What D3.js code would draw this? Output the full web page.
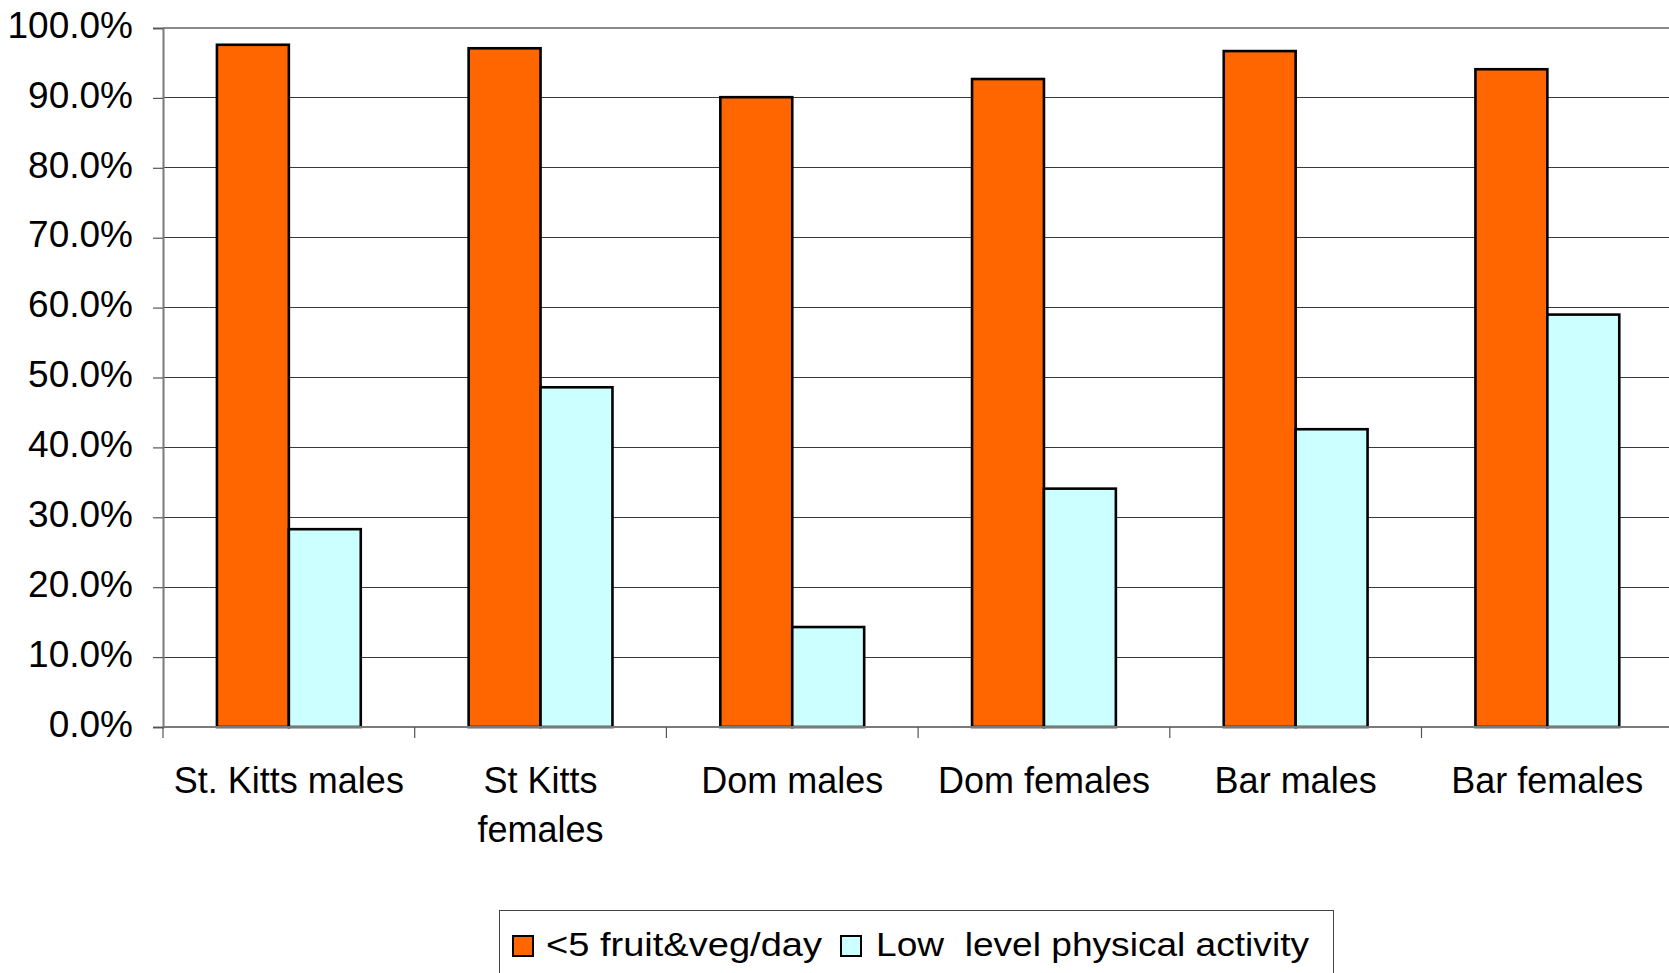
<!DOCTYPE html>
<html>
<head>
<meta charset="utf-8">
<script src="https://cdn.jsdelivr.net/npm/d3@7"></script>
<style>
  html, body { margin: 0; padding: 0; background: #ffffff; }
  svg { display: block; font-family: "Liberation Sans", Arial, sans-serif; }
</style>
</head>
<body>
<svg id="chart" width="1669" height="973"></svg>
<script>
const categories = ["St. Kitts males", "St Kitts females", "Dom males", "Dom females", "Bar males", "Bar females"];
const seriesNames = ["<5 fruit&veg/day", "Low  level physical activity"];
const fruitVeg = [0.976, 0.971, 0.901, 0.927, 0.967, 0.941];
const lowActivity = [0.283, 0.486, 0.143, 0.341, 0.426, 0.590];
const yTicks = [0, 0.1, 0.2, 0.3, 0.4, 0.5, 0.6, 0.7, 0.8, 0.9, 1.0];
const seriesColors = ["#FF6600", "#CCFFFF"];

const svg = d3.select("#chart");
const plotLeft = 163, plotTop = 28, plotBottom = 727;
const bandW = 251.7;
const plotRight = plotLeft + bandW * categories.length;

const x0 = d3.scaleBand().domain(categories).range([plotLeft, plotRight]).padding(0);
const x1 = d3.scaleBand().domain(seriesNames).range([0, x0.bandwidth()]).paddingInner(0).paddingOuter(0.75);
const y = d3.scaleLinear().domain([0, 1]).range([plotBottom, plotTop]);

// gridlines
svg.append("g").selectAll("line").data(yTicks.filter(t => t > 0 && t < 1)).join("line")
  .attr("x1", plotLeft).attr("x2", 1669)
  .attr("y1", d => y(d)).attr("y2", d => y(d))
  .attr("stroke", "#3a3a3a").attr("stroke-width", 1).attr("shape-rendering", "crispEdges");

// top border
svg.append("line").attr("x1", plotLeft).attr("x2", 1669).attr("y1", y(1)).attr("y2", y(1))
  .attr("stroke", "#8a8a8a").attr("stroke-width", 2);

// y axis
const yAxis = d3.axisLeft(y).tickValues(yTicks).tickFormat(d3.format(".1%")).tickSize(10).tickPadding(20);
const gy = svg.append("g").attr("transform", `translate(${plotLeft},0)`).call(yAxis);
gy.select(".domain").attr("stroke", "#7a7a7a").attr("stroke-width", 2);
gy.selectAll(".tick line").attr("stroke", "#555").attr("stroke-width", 1.2);
gy.selectAll(".tick text").attr("font-size", 37).attr("fill", "#000")
  .attr("font-family", "Liberation Sans, Arial, sans-serif").attr("dy", "0.25em");

// bars
const data = categories.map((c, i) => ({ cat: c, vals: [fruitVeg[i], lowActivity[i]] }));
const groups = svg.append("g").selectAll("g").data(data).join("g")
  .attr("transform", d => `translate(${x0(d.cat)},0)`);
groups.selectAll("rect").data(d => d.vals.map((v, j) => ({ v, s: seriesNames[j], j }))).join("rect")
  .attr("x", d => x1(d.s)).attr("width", x1.bandwidth())
  .attr("y", d => y(d.v)).attr("height", d => y(0) - y(d.v))
  .attr("fill", d => seriesColors[d.j]).attr("stroke", "#000").attr("stroke-width", 2.6);

// x axis
const gx = svg.append("g").attr("transform", `translate(0,${plotBottom})`);
gx.append("line").attr("x1", plotLeft).attr("x2", 1669).attr("y1", 0).attr("y2", 0)
  .attr("stroke", "#7a7a7a").attr("stroke-width", 2);
const boundaries = d3.range(categories.length + 1).map(i => plotLeft + i * x0.step());
gx.selectAll("line.tk").data(boundaries).join("line").attr("class", "tk")
  .attr("x1", d => d).attr("x2", d => d).attr("y1", 0).attr("y2", 11)
  .attr("stroke", "#555").attr("stroke-width", 1.2);

// x labels with wrapping
const maxW = 240;
const tmp = svg.append("text").attr("font-size", 36);
function wrap(label) {
  const words = label.split(" ");
  const lines = [];
  let cur = "";
  words.forEach(w => {
    const test = cur ? cur + " " + w : w;
    tmp.text(test);
    if (tmp.node().getComputedTextLength() > maxW && cur) { lines.push(cur); cur = w; }
    else cur = test;
  });
  lines.push(cur);
  return lines;
}
categories.forEach(c => {
  const lines = wrap(c);
  const t = svg.append("text").attr("font-size", 36).attr("text-anchor", "middle").attr("fill", "#000");
  lines.forEach((ln, i) => {
    t.append("tspan").attr("x", x0(c) + x0.bandwidth() / 2).attr("y", 793 + i * 49).text(ln);
  });
});
tmp.remove();

// legend
const lg = svg.append("g");
lg.append("rect").attr("x", 499.5).attr("y", 910.5).attr("width", 834).attr("height", 80)
  .attr("fill", "#fff").attr("stroke", "#444").attr("stroke-width", 1);
const legendItems = [
  { name: seriesNames[0], color: seriesColors[0], sx: 513, tx: 546, tl: 276 },
  { name: seriesNames[1], color: seriesColors[1], sx: 841, tx: 876, tl: 433 }
];
legendItems.forEach(it => {
  lg.append("rect").attr("x", it.sx).attr("y", 936).attr("width", 20).attr("height", 20)
    .attr("fill", it.color).attr("stroke", "#000").attr("stroke-width", 2);
  lg.append("text").attr("x", it.tx).attr("y", 956).attr("font-size", 34).attr("fill", "#000")
    .attr("textLength", it.tl).attr("lengthAdjust", "spacingAndGlyphs")
    .style("white-space", "pre").text(it.name);
});
</script>
</body>
</html>
